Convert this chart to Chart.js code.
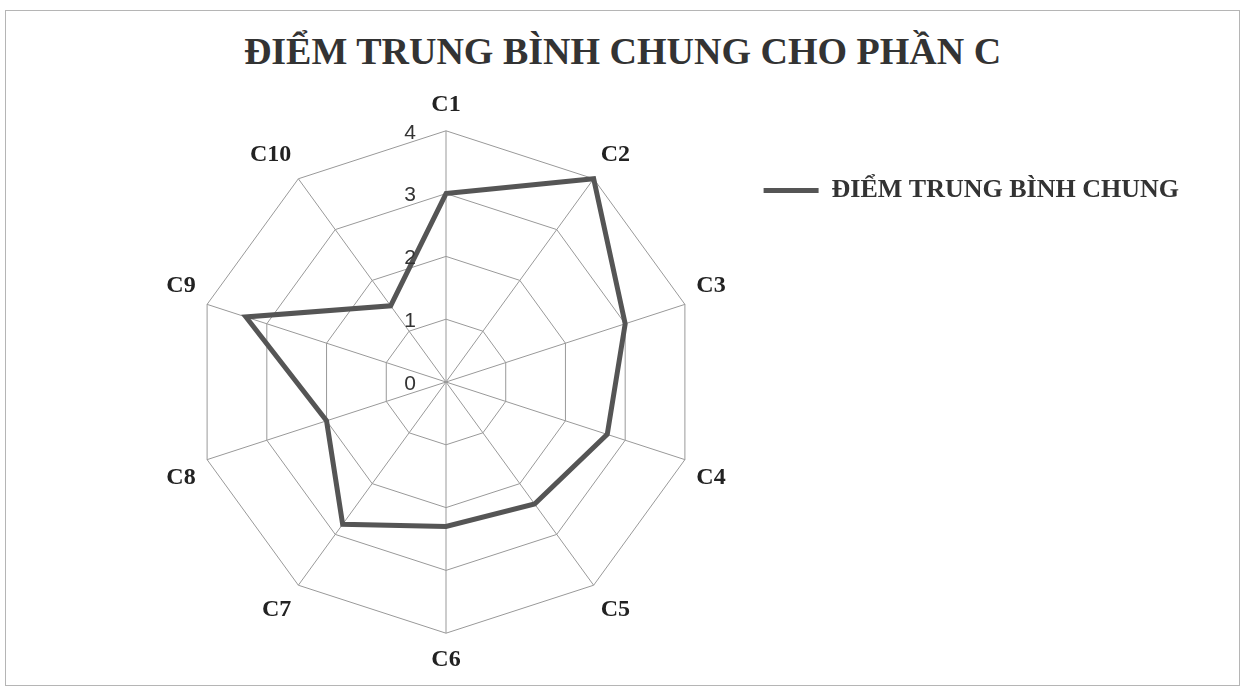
<!DOCTYPE html>
<html>
<head>
<meta charset="utf-8">
<script src="https://cdn.jsdelivr.net/npm/chart.js@4.4.1/dist/chart.umd.min.js"></script>
<style>
  html, body { margin: 0; padding: 0; background: #fff; }
  #wrap { position: relative; width: 1245px; height: 687px; }
  #frame { position: absolute; left: 5px; top: 10px; right: 5px; bottom: 1px; border: 1px solid #b5b5b5; }
  #title {
    position: absolute; left: 0; right: 0; top: 29px; margin: 0;
    text-align: center; line-height: 46px;
    font: bold 38px 'Liberation Serif', 'Times New Roman', serif; color: #333;
  }
  canvas { position: absolute; left: 0; top: 0; }
</style>
</head>
<body>
<div id="wrap">
  <div id="frame"></div>
  <h1 id="title"></h1>
  <canvas id="chart" width="1245" height="687"></canvas>
</div>
<script>
const chartTitle = "ĐIỂM TRUNG BÌNH CHUNG CHO PHẦN C";
const seriesName = "ĐIỂM TRUNG BÌNH CHUNG";
const categories = ["C1", "C2", "C3", "C4", "C5", "C6", "C7", "C8", "C9", "C10"];
const scores = [3, 4, 3, 2.7, 2.4, 2.3, 2.8, 2, 3.35, 1.5];
const tickLabels = ["0", "1", "2", "3", "4"];

const serif = "'Liberation Serif', 'Times New Roman', serif";

document.getElementById("title").textContent = chartTitle;

// tick numbers sit to the left of the C1 axis, not on it
const sideTicks = {
  id: "sideTicks",
  afterDatasetsDraw(chart) {
    const scale = chart.scales.r;
    const ctx = chart.ctx;
    ctx.save();
    ctx.font = "21px 'Liberation Sans', Arial, sans-serif";
    ctx.fillStyle = "#333";
    ctx.textAlign = "center";
    ctx.textBaseline = "middle";
    tickLabels.forEach((lbl) => {
      const d = scale.getDistanceFromCenterForValue(Number(lbl));
      ctx.fillText(lbl, scale.xCenter - 36, scale.yCenter - d + 2);
    });
    ctx.restore();
  }
};

const ctx = document.getElementById("chart").getContext("2d");
new Chart(ctx, {
  type: "radar",
  data: {
    labels: categories,
    datasets: [
      {
        label: seriesName,
        data: scores,
        borderColor: "#555",
        backgroundColor: "#555",
        borderWidth: 5,
        fill: false,
        pointRadius: 0,
        pointHoverRadius: 0,
        tension: 0,
      },
    ],
  },
  options: {
    responsive: false,
    animation: false,
    devicePixelRatio: 1,
    layout: {
      padding: { left: 139, right: 56, top: 90, bottom: 12 },
    },
    plugins: {
      title: { display: false },
      legend: {
        position: "right",
        align: "start",
        title: {
          display: true,
          text: "",
          padding: { top: 63, bottom: 0 },
        },
        labels: {
          usePointStyle: true,
          pointStyle: "line",
          pointStyleWidth: 55,
          padding: 10,
          color: "#333",
          font: { family: serif, size: 26, weight: "bold" },
        },
      },
      tooltip: { enabled: false },
    },
    scales: {
      r: {
        min: 0,
        max: 4,
        ticks: {
          stepSize: 1,
          color: "rgba(0,0,0,0)",
          showLabelBackdrop: false,
        },
        grid: { color: "#999", lineWidth: 1 },
        angleLines: { color: "#999", lineWidth: 1 },
        pointLabels: {
          color: "#222",
          padding: 4,
          font: { family: serif, size: 24, weight: "bold" },
        },
      },
    },
  },
  plugins: [sideTicks],
});
</script>
</body>
</html>
